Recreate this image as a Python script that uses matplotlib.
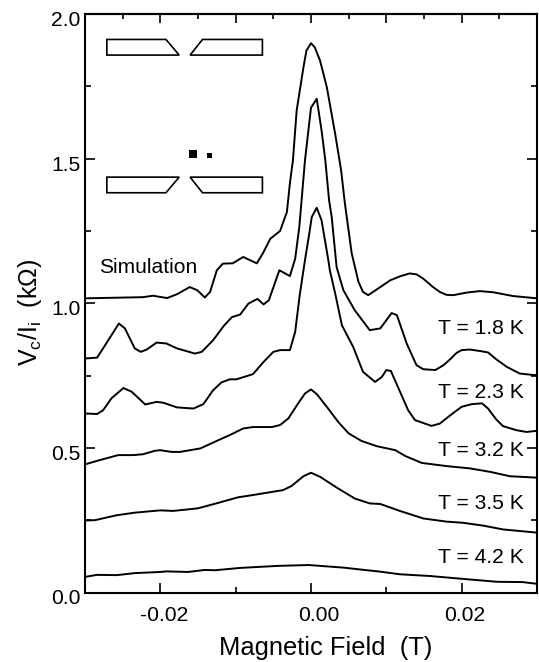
import matplotlib
matplotlib.use('Agg')
import numpy as np
import matplotlib.pyplot as plt
from matplotlib.ticker import MultipleLocator
from matplotlib.patches import Polygon
from matplotlib.transforms import ScaledTranslation

plt.rcParams['font.family'] = ['Liberation Sans', 'DejaVu Sans']
plt.rcParams['mathtext.default'] = 'regular'
plt.rcParams['axes.unicode_minus'] = False

# field in mT, resistance in kOhm
sim_x = [-30, -22.3, -21, -19.1, -17.8, -16.1, -15.1, -14.1, -13.4, -12.5, -11.7, -10.4, -9, -7.2, -6.4, -5.4, -4.1, -3.6, -3.2, -2.8, -2.4, -1.9, -1, -0.6, 0, 0.5, 1.2, 2.1, 3.2, 4, 4.5, 5.4, 6.3, 6.9, 7.6, 9.2, 10.5, 11.8, 13.1, 14, 14.9, 16.2, 17.1, 18, 18.9, 20.7, 22.4, 24.2, 26.8, 30]
sim_y = [1.017, 1.021, 1.026, 1.018, 1.031, 1.056, 1.045, 1.02, 1.039, 1.114, 1.137, 1.138, 1.16, 1.138, 1.172, 1.223, 1.25, 1.287, 1.315, 1.415, 1.494, 1.667, 1.816, 1.874, 1.899, 1.885, 1.839, 1.747, 1.587, 1.459, 1.345, 1.173, 1.074, 1.039, 1.028, 1.056, 1.079, 1.093, 1.103, 1.1, 1.085, 1.056, 1.039, 1.029, 1.028, 1.037, 1.042, 1.038, 1.025, 1.017]

t18_x = [-30, -28.4, -27.6, -25.5, -24.7, -23.4, -22.6, -21.8, -20.5, -19.2, -17.8, -15.4, -14.5, -13, -11.6, -10.5, -9.4, -8.3, -7.1, -6.3, -5.6, -4.2, -2.8, -2.1, -1.55, -0.8, 0, 0.76, 1.4, 1.9, 2.4, 2.75, 3.4, 4.3, 5.8, 7.8, 9.2, 10.7, 11.4, 12.7, 14, 14.9, 16.5, 17.6, 18.5, 19.3, 20, 21.1, 22.4, 23.5, 24.6, 26, 27.7, 29.5, 30]
t18_y = [0.809, 0.812, 0.844, 0.93, 0.913, 0.844, 0.832, 0.84, 0.864, 0.861, 0.844, 0.826, 0.832, 0.872, 0.921, 0.952, 0.961, 0.999, 1.015, 0.996, 1.01, 1.114, 1.094, 1.154, 1.264, 1.494, 1.676, 1.707, 1.598, 1.494, 1.356, 1.298, 1.125, 1.045, 0.976, 0.907, 0.913, 0.966, 0.959, 0.861, 0.786, 0.772, 0.769, 0.786, 0.807, 0.828, 0.838, 0.84, 0.835, 0.83, 0.806, 0.78, 0.757, 0.752, 0.752]

t23_x = [-30, -28.4, -27.6, -26.5, -24.9, -23.8, -22, -20.5, -19.6, -17.8, -15.6, -14.3, -13, -11.9, -10.8, -9.9, -7.7, -6.3, -5, -4.1, -2.8, -2.1, -1.5, -0.8, -0.23, 0.1, 0.76, 1.4, 2.3, 2.5, 3.2, 4.1, 5.6, 6.9, 8.5, 9.4, 10, 10.6, 12.9, 13.8, 16, 17.1, 18.9, 20, 21.3, 22.7, 23.5, 24.6, 25.5, 27.3, 28.6, 30]
t23_y = [0.619, 0.617, 0.63, 0.671, 0.707, 0.694, 0.65, 0.659, 0.656, 0.64, 0.636, 0.651, 0.699, 0.726, 0.737, 0.737, 0.755, 0.797, 0.832, 0.838, 0.838, 0.901, 1.028, 1.149, 1.241, 1.298, 1.33, 1.287, 1.149, 1.114, 1.035, 0.924, 0.849, 0.763, 0.728, 0.745, 0.769, 0.766, 0.63, 0.596, 0.576, 0.584, 0.621, 0.642, 0.651, 0.654, 0.636, 0.598, 0.575, 0.561, 0.555, 0.559]

t32_x = [-30, -28, -25.6, -23.6, -22.3, -20.7, -20, -18.5, -17.4, -14.7, -12.1, -10.8, -9, -7.7, -5.2, -4.1, -3, -1.7, -0.8, 0, 0.76, 2.1, 3.6, 5, 6.7, 8.7, 11.2, 12.5, 14.7, 18, 21.1, 23.8, 26.4, 30]
t32_y = [0.443, 0.458, 0.475, 0.475, 0.478, 0.49, 0.492, 0.486, 0.486, 0.498, 0.529, 0.544, 0.567, 0.572, 0.572, 0.579, 0.602, 0.654, 0.688, 0.702, 0.686, 0.642, 0.59, 0.55, 0.524, 0.506, 0.492, 0.472, 0.448, 0.437, 0.429, 0.417, 0.402, 0.397]

t35_x = [-30, -28.7, -25.8, -23.4, -20, -18.3, -15, -12.3, -9.7, -7.7, -3.7, -2.6, -1, 0, 1.2, 3.4, 5.8, 7.8, 9.2, 11.8, 14.9, 18, 20.2, 22.9, 25.5, 30]
t35_y = [0.249, 0.25, 0.267, 0.276, 0.284, 0.282, 0.291, 0.31, 0.329, 0.337, 0.354, 0.368, 0.402, 0.414, 0.4, 0.363, 0.325, 0.308, 0.306, 0.282, 0.256, 0.245, 0.241, 0.231, 0.218, 0.207]

t42_x = [-30, -28.4, -25.8, -23.4, -20, -19.2, -16.3, -14.1, -12.7, -9.4, -4.4, -0.3, 4.3, 9.2, 11.8, 15.8, 20.2, 24.7, 28.1, 30]
t42_y = [0.054, 0.061, 0.06, 0.067, 0.071, 0.073, 0.071, 0.078, 0.077, 0.085, 0.092, 0.095, 0.086, 0.072, 0.063, 0.057, 0.047, 0.037, 0.036, 0.03]

curves = [(sim_x, sim_y), (t18_x, t18_y), (t23_x, t23_y), (t32_x, t32_y), (t35_x, t35_y), (t42_x, t42_y)]
temp_labels = ['T = 1.8 K', 'T = 2.3 K', 'T = 3.2 K', 'T = 3.5 K', 'T = 4.2 K']
x_ticks = [-0.02, 0.0, 0.02]
x_tick_labels = ['-0.02', '0.00', '0.02']

# gate sketch in the upper left corner
gate_x = [-27.1, -19.25, -17.5, -16.05, -14.4, -6.45]
gate_y = [1.912, 1.858, 1.436, 1.382]

fig = plt.figure(figsize=(5.39, 6.62), dpi=100)
ax = fig.add_axes([85 / 539, 1 - 592.5 / 662, 452 / 539, 578.5 / 662])

for x, y in curves:
    ax.plot(np.array(x) / 1000, y, color='black', lw=1.4, solid_joinstyle='round')

gx = np.array(gate_x) / 1000
gates = [
    [(gx[0], gate_y[0]), (gx[1], gate_y[0]), (gx[2], gate_y[1]), (gx[0], gate_y[1])],
    [(gx[3], gate_y[1]), (gx[4], gate_y[0]), (gx[5], gate_y[0]), (gx[5], gate_y[1])],
    [(gx[0], gate_y[2]), (gx[2], gate_y[2]), (gx[1], gate_y[3]), (gx[0], gate_y[3])],
    [(gx[3], gate_y[2]), (gx[4], gate_y[3]), (gx[5], gate_y[3]), (gx[5], gate_y[2])],
]
for g in gates:
    ax.add_patch(Polygon(g, closed=True, fill=False, ec='black', lw=1.2))
ax.plot([-0.0156], [1.515], 's', color='black', ms=6.4, mew=0)
ax.plot([-0.0135], [1.511], 's', color='black', ms=3.6, mew=0)

ax.text(-0.0281, 1.123, 'Simulation', fontsize=15.1, ha='left', va='center')
label_y = [0.913, 0.692, 0.490, 0.309, 0.121]
for lab, ly in zip(temp_labels, label_y):
    ax.text(0.0283, ly, lab, fontsize=15.2, ha='right', va='center')

ax.set_xlim(-0.03, 0.03)
ax.set_ylim(0, 2.0)
ax.set_xticks(x_ticks, x_tick_labels)
ax.xaxis.set_minor_locator(MultipleLocator(0.01))
ax.yaxis.set_major_locator(MultipleLocator(0.5))
ax.yaxis.set_minor_locator(MultipleLocator(0.25))
ax.yaxis.set_major_formatter(lambda v, p: '%.1f' % v)
ax.tick_params(which='major', direction='in', length=7, width=1.2, labelsize=15.2, left=True, right=True, bottom=True, top=False)
ax.tick_params(which='minor', direction='in', length=4.5, width=1.2, left=True, right=True, bottom=True, top=False)
ax.tick_params(axis='y', which='major', pad=3)
ax.tick_params(axis='x', which='major', pad=9.5)

top = ax.secondary_xaxis('top')
top.xaxis.set_major_locator(MultipleLocator(0.01))
top.xaxis.set_minor_locator(MultipleLocator(0.005))
top.tick_params(which='major', direction='in', length=6.5, width=1.2, labeltop=False)
top.tick_params(which='minor', direction='in', length=3.5, width=1.2)
top.spines['top'].set_linewidth(1.5)

for s in ax.spines.values():
    s.set_linewidth(1.5)

# the labels sit a little off their ticks in the original
for lab in ax.get_yticklabels():
    lab.set_transform(lab.get_transform() + ScaledTranslation(0, -0.045, fig.dpi_scale_trans))
for lab, dx in zip(ax.get_xticklabels(), [0.035, 0.08, 0.03]):
    lab.set_transform(lab.get_transform() + ScaledTranslation(dx, 0, fig.dpi_scale_trans))

fig.text(326 / 539, 1 - 648 / 662, 'Magnetic Field  (T)', fontsize=18.4, ha='center', va='center')
fig.text(30 / 539, 1 - 312 / 662, 'V$_c$/I$_i$  (k\u03a9)', fontsize=18, rotation=90, ha='center', va='center')

fig.savefig('out.png', dpi=100)
